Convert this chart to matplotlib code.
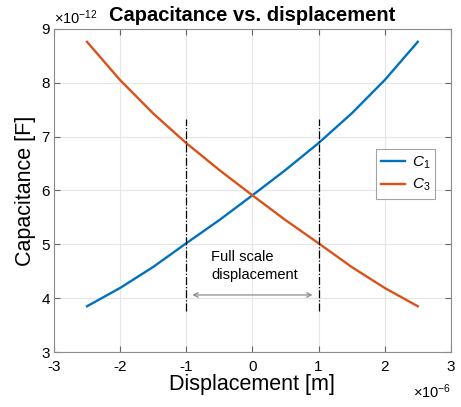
import numpy as np
import matplotlib.pyplot as plt

plt.rcParams['font.family'] = ['Liberation Sans', 'DejaVu Sans']
plt.rcParams['mathtext.fontset'] = 'custom'
plt.rcParams['mathtext.it'] = 'Liberation Sans:italic'
plt.rcParams['mathtext.rm'] = 'Liberation Sans'
plt.rcParams['axes.unicode_minus'] = False

# displacement in um, capacitance in pF
desloc = np.array([-2.5, -2.0, -1.5, -1.0, -0.5, 0.0, 0.5, 1.0, 1.5, 2.0, 2.5])
c1 = np.array([3.85, 4.19, 4.58, 5.02, 5.45, 5.91, 6.38, 6.88, 7.43, 8.05, 8.76])
c3 = c1[::-1]

fundo_escala = [-1.0, 1.0]
linha_y = [3.77, 7.33]
seta_y = 4.06

fig = plt.figure(figsize=(4.61, 4.07), dpi=100)
ax = fig.add_axes([0.117, 0.135, 0.861, 0.794])

ax.plot(desloc, c1, color='#0072BD', lw=1.7, label='$C_1$')
ax.plot(desloc, c3, color='#D95319', lw=1.7, label='$C_3$')

for xv in fundo_escala:
    ax.plot([xv, xv], linha_y, color='k', ls='-.', lw=0.9)

ax.annotate('', xy=(-0.95, seta_y), xytext=(0.95, seta_y),
            arrowprops=dict(arrowstyle='<->', color='0.55', lw=0.9,
                            mutation_scale=8))
ax.text(-0.62, 4.59, 'Full scale\ndisplacement', fontsize=10.5,
        ha='left', va='center', linespacing=1.35)

ax.set_xlim(-3, 3)
ax.set_ylim(3, 9)
ax.set_xticks(np.arange(-3, 4, 1))
ax.set_yticks(np.arange(3, 10, 1))
ax.tick_params(direction='in', top=True, right=True, labelsize=11,
               length=4, color='0.4')
ax.tick_params(axis='x', pad=6)
ax.tick_params(axis='y', pad=3)
for s in ax.spines.values():
    s.set_color('0.55')
    s.set_linewidth(0.8)
ax.grid(True, color='0.9', lw=0.8)
ax.set_axisbelow(True)

ax.set_xlabel('Displacement [m]', fontsize=15.5, labelpad=0)
ax.set_ylabel('Capacitance [F]', fontsize=15.5, labelpad=4)
ax.set_title('Capacitance vs. displacement', fontsize=14.5,
             fontweight='bold', pad=6)

ax.text(0.0, 1.005, r'$\times10^{-12}$', transform=ax.transAxes,
        fontsize=10.5, ha='left', va='bottom')
ax.text(1.0, -0.095, r'$\times10^{-6}$', transform=ax.transAxes,
        fontsize=10.5, ha='right', va='top')

leg = ax.legend(loc='upper right', bbox_to_anchor=(0.98, 0.652),
                fontsize=11, handlelength=1.6, borderpad=0.35,
                labelspacing=0.4, handletextpad=0.4, fancybox=False)
leg.get_frame().set_edgecolor('0.55')
leg.get_frame().set_linewidth(0.8)

fig.savefig('out.png', dpi=100)
